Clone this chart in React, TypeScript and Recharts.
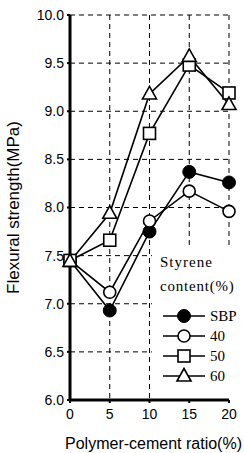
import React from 'react';
import {
  LineChart,
  Line,
  XAxis,
  YAxis,
  CartesianGrid,
  Legend,
} from 'recharts';

// polymer-cement ratio (%)
const ratios = [0, 5, 10, 15, 20];
// flexural strength (MPa) per styrene content
const sbp = [7.45, 6.93, 7.75, 8.37, 8.26];
const s40 = [7.45, 7.12, 7.86, 8.17, 7.96];
const s50 = [7.45, 7.66, 8.77, 9.48, 9.19];
const s60 = [7.44, 7.94, 9.18, 9.57, 9.07];

const xTicks = [0, 5, 10, 15, 20];
const yTicks = [6.0, 6.5, 7.0, 7.5, 8.0, 8.5, 9.0, 9.5, 10.0];
const seriesNames = ['SBP', '40', '50', '60'];

const data = ratios.map((r, i) => ({
  ratio: r,
  SBP: sbp[i],
  '40': s40[i],
  '50': s50[i],
  '60': s60[i],
}));

const SANS = '"Liberation Sans", Arial, sans-serif';
const SERIF = '"Liberation Serif", "Times New Roman", serif';

const drawMarker = (name: string, cx: number, cy: number, key?: string) => {
  if (name === 'SBP') {
    return <circle key={key} cx={cx} cy={cy} r={6.5} fill="#000" stroke="#000" />;
  }
  if (name === '40') {
    return <circle key={key} cx={cx} cy={cy} r={6} fill="#fff" stroke="#000" strokeWidth={1.6} />;
  }
  if (name === '50') {
    return (
      <rect key={key} x={cx - 6} y={cy - 6} width={12} height={12} fill="#fff" stroke="#000" strokeWidth={1.6} />
    );
  }
  return (
    <polygon
      key={key}
      points={`${cx},${cy - 7.5} ${cx - 7},${cy + 5} ${cx + 7},${cy + 5}`}
      fill="#fff"
      stroke="#000"
      strokeWidth={1.6}
    />
  );
};

const makeDot = (name: string) => (props: any) =>
  drawMarker(name, props.cx, props.cy, `${name}-${props.index}`);

const LegendBox = () => (
  <div style={{ background: '#fff', width: 92, height: 150 }}>
    <svg width={92} height={150}>
      <text x={8} y={19} fontFamily={SERIF} fontSize={15} letterSpacing={1} fill="#000">
        Styrene
      </text>
      <text x={8} y={43} fontFamily={SERIF} fontSize={15} letterSpacing={0.8} fill="#000">
        content(%)
      </text>
      {seriesNames.map((n, i) => {
        const y = 68 + i * 20;
        return (
          <g key={n}>
            <line x1={11} x2={53} y1={y} y2={y} stroke="#000" strokeWidth={1.6} />
            {drawMarker(n, 32, y)}
            <text x={58} y={y + 5} fontFamily={SERIF} fontSize={15} fill="#000">
              {n}
            </text>
          </g>
        );
      })}
    </svg>
  </div>
);

const App: React.FC = () => {
  return (
    <div style={{ position: 'absolute', left: 0, top: 0, background: '#fff' }}>
      <LineChart
        width={244}
        height={453}
        data={data}
        margin={{ top: 15, right: 15, left: 0, bottom: 0 }}
      >
        <CartesianGrid
          stroke="#000"
          strokeDasharray="5 4"
          strokeWidth={1}
          horizontalValues={yTicks}
          verticalValues={xTicks}
        />
        <XAxis
          dataKey="ratio"
          type="number"
          domain={[0, 20]}
          ticks={xTicks}
          height={53}
          axisLine={{ stroke: '#000', strokeWidth: 3 }}
          tickLine={{ stroke: '#000', strokeWidth: 2 }}
          tickSize={3}
          tickMargin={6}
          tick={{ fill: '#000', fontSize: 14, fontFamily: SANS }}
          label={{
            value: 'Polymer-cement ratio(%)',
            position: 'insideBottom',
            offset: 4,
            dx: 4,
            style: { fill: '#000', fontSize: 16, fontFamily: SANS },
          }}
        />
        <YAxis
          type="number"
          domain={[6, 10]}
          ticks={yTicks}
          width={70}
          axisLine={{ stroke: '#000', strokeWidth: 3 }}
          tickLine={{ stroke: '#000', strokeWidth: 2 }}
          tickSize={3}
          tickMargin={3}
          tickFormatter={(v: number) => v.toFixed(1)}
          tick={{ fill: '#000', fontSize: 14, fontFamily: SANS }}
          label={{
            value: 'Flexural strength(MPa)',
            angle: -90,
            position: 'insideLeft',
            offset: 17,
            dx: -4,
            style: { fill: '#000', fontSize: 17, fontFamily: SANS, textAnchor: 'middle' },
          }}
        />
        <Legend
          layout="horizontal"
          verticalAlign="middle"
          align="center"
          content={<LegendBox />}
          wrapperStyle={{ position: 'absolute', left: 152, top: 248, width: 92, height: 150 }}
        />
        {seriesNames.map((n) => (
          <Line
            key={n}
            dataKey={n}
            type="linear"
            stroke="#000"
            strokeWidth={1.6}
            dot={makeDot(n)}
            activeDot={false}
            isAnimationActive={false}
          />
        ))}
      </LineChart>
    </div>
  );
};

export default App;
